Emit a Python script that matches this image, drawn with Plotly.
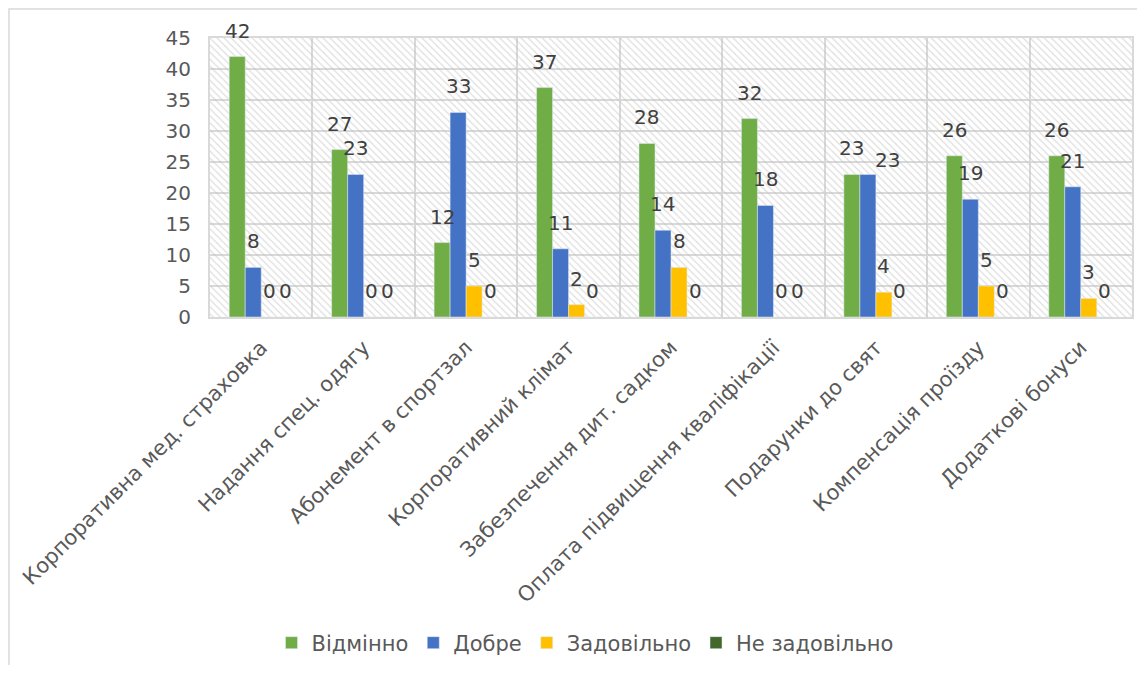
import plotly.graph_objects as go

categories = [
    "Корпоративна мед. страховка",
    "Надання спец. одягу",
    "Абонемент в спортзал",
    "Корпоративний клімат",
    "Забезпечення дит. садком",
    "Оплата підвищення кваліфікації",
    "Подарунки до свят",
    "Компенсація проїзду",
    "Додаткові бонуси",
]
series_names = ["Відмінно", "Добре", "Задовільно", "Не задовільно"]
vidminno = [42, 27, 12, 37, 28, 32, 23, 26, 26]
dobre = [8, 23, 33, 11, 14, 18, 23, 19, 21]
zadovilno = [0, 0, 5, 2, 8, 0, 4, 5, 3]
ne_zadovilno = [0, 0, 0, 0, 0, 0, 0, 0, 0]
series_values = [vidminno, dobre, zadovilno, ne_zadovilno]
colors = ["#70AD47", "#4472C4", "#FFC000", "#43682B"]
y_ticks = [0, 5, 10, 15, 20, 25, 30, 35, 40, 45]

# manual label nudges (series index, category index) -> (dx px, dy px), as in the source
LABEL_NUDGE = {(1, 6): (20, -12)}

# page places the figure 8px in from the top-left corner (body margin)
OFF = 8
W, H = 1145 - OFF - 8, 673 - OFF - 8
PLOT_L, PLOT_R, PLOT_T, PLOT_B = 210, 1132, 38, 317   # target screen px
ML = PLOT_L - OFF
MT = PLOT_T - OFF
MR = W - (PLOT_R - OFF)
MB = H - (PLOT_B - OFF)
PW = W - ML - MR
PH = H - MT - MB
BARGAP = 0.375
FONT = "DejaVu Sans"

fig = go.Figure()

# hatched plot-area background (decoration, unit square on hidden axes)
BG_X = [0, 1, 1, 0, 0]
BG_Y = [0, 0, 1, 1, 0]
fig.add_trace(go.Scatter(
    x=BG_X, y=BG_Y, xaxis="x", yaxis="y", mode="none", fill="toself",
    fillcolor="rgba(0,0,0,0)",
    fillpattern=dict(shape="\\", fgcolor="#bdbdbd", bgcolor="rgba(0,0,0,0)",
                     size=5, solidity=0.25),
    showlegend=False, hoverinfo="skip",
))

for name, vals, col in zip(series_names, series_values, colors):
    fig.add_trace(go.Bar(
        name=name, x=categories, y=vals, marker_color=col,
        xaxis="x2", yaxis="y2",
    ))

cat_px = PW / len(categories)
bar_px = cat_px * (1 - BARGAP) / len(series_names)
annotations = []
for i, vals in enumerate(series_values):
    for j, (c, v) in enumerate(zip(categories, vals)):
        dx, dy = LABEL_NUDGE.get((i, j), (0, 0))
        annotations.append(dict(
            x=c, y=v, xref="x2", yref="y2", text=str(v), showarrow=False,
            xshift=(i - 1.5) * bar_px + dx, yshift=12 + dy, yanchor="bottom",
            font=dict(family=FONT, size=20, color="#404040"),
        ))

def px_to_paper_x(px):
    return (px - OFF - ML) / PW

def px_to_paper_y(py):
    return (H - MB - (py - OFF)) / PH

fig.update_layout(
    width=W, height=H,
    margin=dict(l=ML, r=MR, t=MT, b=MB, autoexpand=False),
    paper_bgcolor="white", plot_bgcolor="white",
    barmode="group", bargap=BARGAP, bargroupgap=0,
    font=dict(family=FONT, color="#595959"),
    xaxis=dict(range=[0, 1], visible=False, fixedrange=True, automargin=False),
    yaxis=dict(range=[0, 1], visible=False, fixedrange=True, automargin=False),
    xaxis2=dict(
        overlaying="x", anchor="y2", type="category",
        categoryorder="array", categoryarray=categories,
        tickson="boundaries", ticks="", showgrid=True,
        gridcolor="#d9d9d9", gridwidth=2, automargin=False,
        showline=True, mirror=True, linecolor="#d9d9d9", linewidth=2,
        ticklabelstandoff=8,
        tickangle=-45, tickfont=dict(family=FONT, size=21, color="#595959"),
    ),
    yaxis2=dict(
        overlaying="y", anchor="x2", range=[0, 45], tickvals=y_ticks,
        showgrid=True, gridcolor="#d9d9d9", gridwidth=2, zeroline=False,
        showline=True, mirror=True, linecolor="#d9d9d9", linewidth=2,
        ticks="", ticklabelstandoff=13, automargin=False,
        tickfont=dict(family=FONT, size=20, color="#595959"),
    ),
    legend=dict(
        orientation="h", x=px_to_paper_x(585), xanchor="center",
        y=px_to_paper_y(643), yanchor="middle",
        font=dict(family=FONT, size=21, color="#595959"),
        traceorder="normal",
    ),
    annotations=annotations,
    shapes=[dict(
        type="rect", xref="paper", yref="paper",
        x0=px_to_paper_x(OFF + 1), x1=px_to_paper_x(1139),
        y0=px_to_paper_y(667), y1=px_to_paper_y(OFF + 1),
        line=dict(color="#d9d9d9", width=1.5), fillcolor="rgba(0,0,0,0)",
        layer="below",
    )],
)

fig.write_html("out.html")
